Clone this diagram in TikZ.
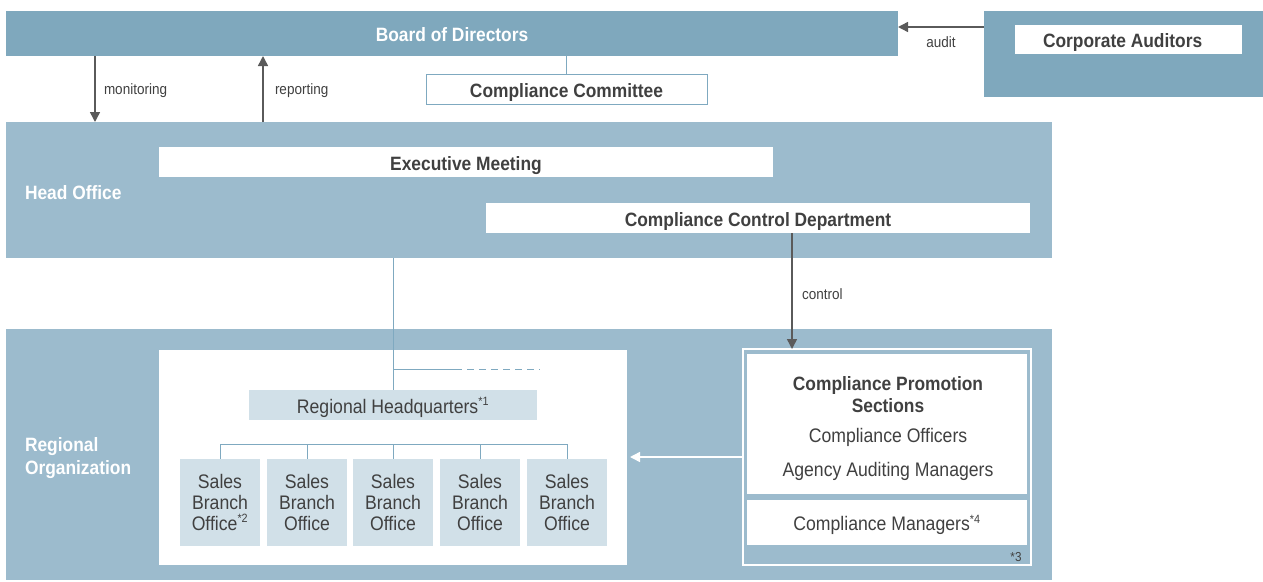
\documentclass[tikz,border=0pt]{standalone}
\usepackage{fontspec}
\setmainfont[FakeStretch=0.9]{Liberation Sans}
\usetikzlibrary{positioning,arrows.meta}

\definecolor{darkband}{HTML}{7FA8BD}
\definecolor{lightband}{HTML}{9CBBCD}
\definecolor{paleblue}{HTML}{D1E0E8}
\definecolor{linkblue}{HTML}{7FA9C0}
\definecolor{txt}{HTML}{404040}
\definecolor{arrgray}{HTML}{5A5A5A}

\newcommand{\bfbig}{\bfseries\fontsize{19.3}{22}\selectfont}
\newcommand{\regbig}{\fontsize{19.6}{21}\selectfont}
\newcommand{\smalltxt}{\fontsize{15}{17}\selectfont}
\newcommand{\fnote}[1]{\textsuperscript{\fontsize{12}{12}\selectfont #1}}

\begin{document}
\begin{tikzpicture}[x=1pt, y=-1pt,
  every node/.style={inner sep=0pt, outer sep=0pt, text=txt},
  band/.style={fill=#1, anchor=north west},
  oneline/.style={text height=16.5pt, text depth=0pt},
  wbox/.style={fill=white, anchor=north west, font=\bfbig, oneline},
  pale/.style={fill=paleblue, anchor=north west, font=\regbig, align=center},
  head/.style={text=white, anchor=west, align=left, font=\bfseries\fontsize{19.3}{23}\selectfont},
  note/.style={font=\smalltxt},
  link/.style={draw=linkblue, line width=1pt},
  arr/.style={draw=arrgray, line width=1.5pt, -{Triangle[length=10pt, width=10pt]}}]
\useasboundingbox (0,0) rectangle (1263,581);

% board and auditors
\node[band=darkband, oneline, minimum width=892pt, minimum height=45pt, text=white, font=\bfbig] (board) at (6,11) {Board of Directors};
\node[band=darkband, minimum width=279pt, minimum height=86pt] (audout) at (984,11) {};
\node[wbox, minimum width=227pt, minimum height=29pt] (auditors) at (1015,25) {};
\node[font=\bfbig, oneline, anchor=west] (auditorslbl) at (1043,39.5) {Corporate Auditors};
\node[anchor=north west, oneline, draw=linkblue, line width=1pt, fill=white, minimum width=281pt, minimum height=30pt, font=\bfbig] (committee) at (426,74) {Compliance Committee};

% head office
\node[band=lightband, minimum width=1046pt, minimum height=136pt] (head) at (6,122) {};
\node[head] (headlbl) at (25,193) {Head Office};
\node[wbox, minimum width=614pt, minimum height=30pt] (exec) at (159,147) {Executive Meeting};
\node[wbox, minimum width=544pt, minimum height=30pt] (ccd) at (486,203) {Compliance Control Department};

% regional organization
\node[band=lightband, minimum width=1046pt, minimum height=251pt] (region) at (6,329) {};
\node[head] (reglbl) at (25,458) {Regional\\Organization};
\node[anchor=north west, fill=white, minimum width=468pt, minimum height=215pt] (branches) at (159,350) {};
\node[pale, oneline, minimum width=288pt, minimum height=30pt] (rhq) at (249,390) {Regional Headquarters\fnote{*1}};
\foreach \i/\x/\fn in {1/180/{\fnote{*2}},2/267/,3/353/,4/440/,5/527/}
  \node[pale, minimum width=80pt, minimum height=87pt] (sb\i) at (\x,459) {Sales\\Branch\\Office\fn};

\node[anchor=north west, draw=white, line width=1.2pt, minimum width=288pt, minimum height=216pt] (promo) at (743,349) {};
\node[wbox, minimum width=280pt, minimum height=140pt] (promotop) at (747,354) {};
\node[wbox, minimum width=280pt, minimum height=45pt, font=\regbig] (cmgr) at (747,500) {Compliance Managers\fnote{*4}};
\node[font=\bfbig, align=center] (promotitle) at (888,395) {Compliance Promotion\\Sections};
\node[font=\regbig] (officers) at (888,437) {Compliance Officers};
\node[font=\regbig] (agency) at (888,471) {Agency Auditing Managers};
\node[font=\fontsize{13}{15}\selectfont] (star3) at (1016,557) {*3};

% connectors
\draw[arr] ([yshift=-16pt]audout.north west) -- node[note, below=10pt] (auditlbl) {audit} ([yshift=-16pt]board.north east);
\draw[link] (committee.north) -- (committee.north |- board.south);
\draw[arr] ([xshift=89pt]board.south west) -- node[note, right=9pt, yshift=-2pt] (monlbl) {monitoring} ([xshift=89pt]head.north west);
\draw[arr] ([xshift=257pt]head.north west) -- node[note, right=12pt, yshift=-2pt] (replbl) {reporting} ([xshift=257pt]board.south west);
\draw[arr] ([xshift=34pt]ccd.south) -- node[note, right=10pt, yshift=-3pt] (ctrllbl) {control} ([xshift=34pt]ccd.south |- promo.north);

\draw[link] (head.south -| rhq.north) -- (rhq.north);
\coordinate (split) at (393,369);
\coordinate (dashend) at (540,369);
\draw[link] (split) -- ++(69,0) coordinate (dashstart);
\draw[link, dash pattern=on 7pt off 5pt] ([xshift=5pt]dashstart) -- (dashend);

\coordinate (bus) at (393,444);
\draw[link] (sb1.north |- bus) -- (sb5.north |- bus);
\foreach \i in {1,...,5}
  \draw[link] (sb\i.north |- bus) -- (sb\i.north);

\draw[draw=white, line width=1.5pt, -{Triangle[length=10pt, width=10pt]}, shorten >=3pt] (promo.west) -- (promo.west -| branches.east);
\end{tikzpicture}
\end{document}
